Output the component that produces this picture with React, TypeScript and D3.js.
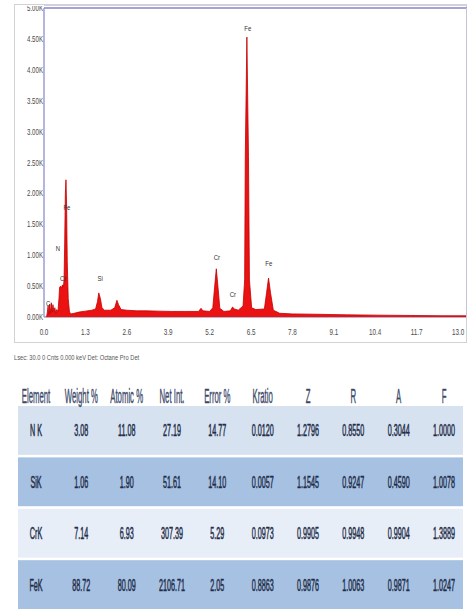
import React from "react";
import * as d3 from "d3";

const W = 468;
const H = 610;

// EDS spectrum: [keV, counts]
const spectrum: [number, number][] = [
  [0.0, 0], [0.08, 0], [0.1, 60], [0.13, 180], [0.15, 40], [0.18, 210],
  [0.2, 60], [0.23, 230], [0.26, 80], [0.28, 200], [0.31, 90], [0.34, 150],
  [0.37, 60], [0.4, 120], [0.44, 90], [0.47, 300], [0.49, 480], [0.52, 500],
  [0.55, 470], [0.58, 520], [0.61, 490], [0.63, 600], [0.65, 1200], [0.67, 2000],
  [0.69, 2220], [0.71, 1800], [0.73, 900], [0.76, 300], [0.8, 80], [0.85, 50],
  [0.95, 60], [1.1, 80], [1.3, 95], [1.5, 110], [1.62, 130], [1.68, 250],
  [1.72, 390], [1.77, 300], [1.82, 150], [1.9, 110], [2.1, 110], [2.22, 150],
  [2.29, 270], [2.34, 200], [2.42, 120], [2.6, 110], [2.9, 100], [3.2, 100],
  [3.6, 95], [4.0, 90], [4.4, 90], [4.85, 90], [4.93, 140], [4.99, 100],
  [5.2, 90], [5.3, 150], [5.36, 500], [5.41, 780], [5.46, 500], [5.52, 140],
  [5.65, 90], [5.85, 100], [5.92, 160], [5.98, 130], [6.1, 110], [6.25, 180],
  [6.3, 600], [6.32, 2600], [6.37, 4530], [6.42, 2600], [6.45, 600], [6.52, 150],
  [6.65, 120], [6.92, 130], [6.99, 400], [7.05, 630], [7.11, 400], [7.2, 110],
  [7.4, 60], [7.8, 50], [8.5, 45], [9.5, 35], [10.5, 30], [11.5, 25],
  [12.5, 20], [13.25, 20],
];

const yTicks = [0, 500, 1000, 1500, 2000, 2500, 3000, 3500, 4000, 4500, 5000];
const yTickLabels = ["0.00K", "0.50K", "1.00K", "1.50K", "2.00K", "2.50K", "3.00K", "3.50K", "4.00K", "4.50K", "5.00K"];
const xTicks = [0, 1.3, 2.6, 3.9, 5.2, 6.5, 7.8, 9.1, 10.4, 11.7, 13.0];
const xTickLabels = ["0.0", "1.3", "2.6", "3.9", "5.2", "6.5", "7.8", "9.1", "10.4", "11.7", "13.0"];

const peakNames = ["C", "N", "Cr", "Fe", "Si", "Cr", "Cr", "Fe", "Fe"];
const peakKeV = [0.13, 0.44, 0.6, 0.72, 1.76, 5.43, 5.93, 6.4, 7.06];
const peakLabelCounts = [225, 1115, 615, 1765, 630, 970, 370, 4675, 858];

const caption = "Lsec: 30.0 0 Cnts 0.000 keV Det: Octane Pro Det";

const columns = ["Element", "Weight %", "Atomic %", "Net Int.", "Error %", "Kratio", "Z", "R", "A", "F"];
const elements = ["N K", "SiK", "CrK", "FeK"];
const weightPct = ["3.08", "1.06", "7.14", "88.72"];
const atomicPct = ["11.08", "1.90", "6.93", "80.09"];
const netInt = ["27.19", "51.61", "307.39", "2106.71"];
const errorPct = ["14.77", "14.10", "5.29", "2.05"];
const kratio = ["0.0120", "0.0057", "0.0973", "0.8863"];
const zCol = ["1.2796", "1.1545", "0.9905", "0.9876"];
const rCol = ["0.8550", "0.9247", "0.9948", "1.0063"];
const aCol = ["0.3044", "0.4590", "0.9904", "0.9871"];
const fCol = ["1.0000", "1.0078", "1.3889", "1.0247"];
const rowColors = ["#d6e2f0", "#a6c1e1", "#e7eef7", "#a6c1e1"];

const FONT = "'Liberation Sans', Arial, sans-serif";

const Squeezed = ({ x, y, sx, size, fill, anchor = "middle", weight = 0, children }: any) => (
  <text
    transform={`translate(${x},${y}) scale(${sx},1)`}
    fontSize={size}
    fill={fill}
    stroke={weight ? fill : "none"}
    strokeWidth={weight}
    textAnchor={anchor}
    fontFamily={FONT}
  >
    {children}
  </text>
);

export default function App() {
  const plot = { left: 44, right: 466, top: 8, bottom: 317 };
  const x = d3.scaleLinear().domain([0, 13.25]).range([plot.left, plot.right]);
  const y = d3.scaleLinear().domain([0, 5000]).range([plot.bottom, plot.top]);

  const area = d3
    .area<[number, number]>()
    .x((d) => x(d[0]))
    .y0(y(0))
    .y1((d) => y(d[1]));
  const line = d3
    .line<[number, number]>()
    .x((d) => x(d[0]))
    .y((d) => y(d[1]));

  const colX = d3.scalePoint<string>().domain(columns).range([36, 444]);
  const rowY = d3.scaleBand<string>().domain(elements).range([406, 609]).paddingInner(0.05);

  const table = [elements, weightPct, atomicPct, netInt, errorPct, kratio, zCol, rCol, aCol, fCol];

  return (
    <svg
      width={W}
      height={H}
      style={{ position: "absolute", left: 0, top: 0, background: "#fff" }}
    >
      <defs>
        <clipPath id="plotClip">
          <rect x={plot.left} y={plot.top} width={plot.right - plot.left} height={plot.bottom - plot.top} />
        </clipPath>
        <clipPath id="frameClip">
          <rect x={14} y={6} width={453} height={337} />
        </clipPath>
      </defs>

      {/* outer frame */}
      <rect x={14.5} y={4.5} width={452} height={338} fill="#fff" stroke="#d2d2d2" />

      {/* spectrum */}
      <g clipPath="url(#plotClip)">
        <path d={area(spectrum) ?? ""} fill="#ea1212" />
        <path d={line(spectrum) ?? ""} fill="none" stroke="#c40000" strokeWidth={0.8} />
      </g>

      {/* axes */}
      <line x1={plot.left} x2={plot.right} y1={5.5} y2={5.5} stroke="#cfcfe6" />
      <line x1={plot.left} x2={plot.right + 1} y1={8} y2={8} stroke="#a4a4d4" strokeWidth={2} />
      <line x1={plot.left} x2={plot.left} y1={plot.top} y2={plot.bottom} stroke="#9c9cd6" strokeWidth={1.5} />
      <line x1={plot.right + 0.5} x2={plot.right + 0.5} y1={plot.top} y2={plot.bottom} stroke="#c4c4d8" />
      <line x1={plot.left} x2={plot.right} y1={plot.bottom + 0.5} y2={plot.bottom + 0.5} stroke="#b4b4cc" />

      <g clipPath="url(#frameClip)">
        {yTicks.map((t, i) => (
          <Squeezed key={t} x={plot.left - 1} y={y(t) + 3} sx={0.72} size={8.5} fill="#4a4a4a" anchor="end">
            {yTickLabels[i]}
          </Squeezed>
        ))}
      </g>
      {xTicks.map((t, i) => (
        <Squeezed key={t} x={x(t)} y={335} sx={0.7} size={9} fill="#4a4a4a">
          {xTickLabels[i]}
        </Squeezed>
      ))}

      {peakNames.map((n, i) => (
        <Squeezed key={i} x={x(peakKeV[i])} y={y(peakLabelCounts[i]) + 2.5} sx={0.8} size={7.5} fill="#333">
          {n}
        </Squeezed>
      ))}

      <Squeezed x={14} y={359.5} sx={0.82} size={7} fill="#555" anchor="start">
        {caption}
      </Squeezed>

      {/* table */}
      {elements.map((e, r) => (
        <rect key={e} x={18} y={rowY(e)} width={445} height={rowY.bandwidth()} fill={rowColors[r]} />
      ))}
      {columns.map((c) => (
        <Squeezed key={c} x={colX(c)} y={403} sx={0.37} size={21} fill="#3a4868" weight={0.4}>
          {c}
        </Squeezed>
      ))}
      {table.map((col, ci) =>
        col.map((v, r) => (
          <Squeezed
            key={ci + "-" + r}
            x={colX(columns[ci])}
            y={(rowY(elements[r]) ?? 0) + rowY.bandwidth() / 2 + 6}
            sx={0.45}
            size={16}
            fill="#222c48"
            weight={0.5}
          >
            {v}
          </Squeezed>
        ))
      )}
    </svg>
  );
}
